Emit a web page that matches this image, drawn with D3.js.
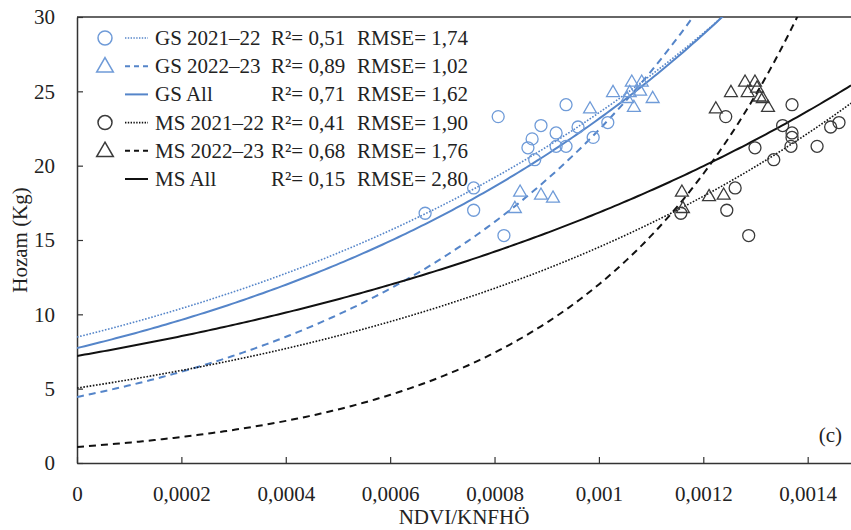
<!DOCTYPE html>
<html>
<head>
<meta charset="utf-8">
<script src="https://cdn.jsdelivr.net/npm/d3@7"></script>
<style>
  body { margin: 0; background: #fff; }
  svg text { font-family: "Liberation Serif", "Times New Roman", serif; fill: #222; }
</style>
</head>
<body>
<svg id="chart" width="851" height="530"></svg>
<script>
// GS 2021-22 points (circles)
const gsCircleX = [0.000667, 0.000760, 0.000760, 0.000807, 0.000818, 0.000864, 0.000872, 0.000877,
    0.000889, 0.000918, 0.000918, 0.000937, 0.000937, 0.000960, 0.000989, 0.001017];
const gsCircleY = [16.8, 18.5, 17.0, 23.3, 15.3, 21.2, 21.8, 20.4, 22.7, 22.2, 21.3, 21.3, 24.1, 22.6, 21.9, 22.9];

// GS 2022-23 points (triangles)
const gsTriX = [0.000839, 0.000849, 0.000889, 0.000912, 0.000983, 0.001027, 0.001054, 0.001059,
    0.001063, 0.001067, 0.001079, 0.001082, 0.001103];
const gsTriY = [17.1, 18.2, 18.0, 17.8, 23.8, 24.9, 24.5, 24.9, 25.6, 23.9, 25.0, 25.6, 24.5];

// MS 2021-22 points (circles)
const msCircleX = [0.001157, 0.001261, 0.001245, 0.001287, 0.001243, 0.001370, 0.001352, 0.001370,
    0.001370, 0.001368, 0.001299, 0.001335, 0.001418, 0.001444, 0.001460];
const msCircleY = [16.8, 18.5, 17.0, 15.3, 23.3, 24.1, 22.7, 22.2, 21.9, 21.3, 21.2, 20.4, 21.3, 22.6, 22.9];

// MS 2022-23 points (triangles)
const msTriX = [0.001159, 0.001161, 0.001211, 0.001239, 0.001224, 0.001253, 0.001280, 0.001285,
    0.001299, 0.001303, 0.001308, 0.001314, 0.001324];
const msTriY = [18.2, 17.1, 17.9, 18.0, 23.8, 24.9, 25.6, 24.9, 25.6, 25.2, 24.6, 24.5, 23.9];

// exponential trendlines y = a * exp(b * x)
const fitNames = ['GS 2021–22', 'GS 2022–23', 'GS All', 'MS 2021–22', 'MS 2022–23', 'MS All'];
const fitA = [8.47, 4.44, 7.73, 5.04, 1.08, 7.2];
const fitB = [1023, 1619, 1097, 1058, 2409, 850];
const fitR2 = ['0,51', '0,89', '0,71', '0,41', '0,68', '0,15'];
const fitRMSE = ['1,74', '1,02', '1,62', '1,90', '1,76', '2,80'];

const xTicks = [0, 0.0002, 0.0004, 0.0006, 0.0008, 0.001, 0.0012, 0.0014];
const yTicks = [0, 5, 10, 15, 20, 25, 30];

const blueLine = '#5585c9';
const blueMark = '#6f9bd8';
const blackLine = '#111';
const blackMark = '#3a3a3a';

const lineColor = [blueLine, blueLine, blueLine, blackLine, blackLine, blackLine];
const lineDash = ['1.6,1.6', '7,5', null, '1.6,1.6', '7,5', null];
const lineWidth = [1.6, 2, 2, 1.6, 2, 2];
const legendMarker = ['circle', 'triangle', null, 'circle', 'triangle', null];

const svg = d3.select('#chart');
const m = { left: 77, right: 851, top: 17, bottom: 463 };

const x = d3.scaleLinear().domain([0, 0.001483]).range([m.left, m.right]);
const y = d3.scaleLinear().domain([0, 30]).range([m.bottom, m.top]);

svg.append('clipPath').attr('id', 'plot')
    .append('rect').attr('x', m.left).attr('y', m.top)
    .attr('width', m.right - m.left).attr('height', m.bottom - m.top);

// axes
const fmt = d => d === 0 ? '0' : String(+d.toFixed(4)).replace('.', ',');

const xAxis = svg.append('g').attr('transform', `translate(0,${m.bottom})`)
    .call(d3.axisBottom(x).tickValues(xTicks).tickSizeInner(-6).tickSizeOuter(0).tickPadding(23).tickFormat(fmt));
const yAxis = svg.append('g').attr('transform', `translate(${m.left},0)`)
    .call(d3.axisLeft(y).tickValues(yTicks).tickSizeInner(-6).tickSizeOuter(0).tickPadding(22));

[xAxis, yAxis].forEach(a => {
    a.select('.domain').attr('stroke', '#333').attr('stroke-width', 1.5);
    a.selectAll('.tick line').attr('stroke', '#333').attr('stroke-width', 1.2);
    a.selectAll('.tick text').attr('font-size', 21).attr('fill', '#222')
        .attr('font-family', '"Liberation Serif", serif');
});

// top frame line
svg.append('line').attr('x1', m.left).attr('x2', m.right).attr('y1', m.top).attr('y2', m.top)
    .attr('stroke', '#333').attr('stroke-width', 1.5);

// trendlines
const xs = d3.range(0, 201).map(i => x.domain()[1] * i / 200);
const line = d3.line().x(d => x(d[0])).y(d => y(d[1]));
const curves = svg.append('g').attr('clip-path', 'url(#plot)');
fitNames.forEach((n, i) => {
    curves.append('path')
        .attr('d', line(xs.map(v => [v, fitA[i] * Math.exp(fitB[i] * v)])))
        .attr('fill', 'none')
        .attr('stroke', lineColor[i])
        .attr('stroke-width', lineWidth[i])
        .attr('stroke-dasharray', lineDash[i]);
});

// markers
const tri = d3.symbol().type(d3.symbolTriangle).size(72);
const triBig = d3.symbol().type(d3.symbolTriangle).size(120);

function drawCircles(xv, yv, color) {
    svg.append('g').selectAll('circle')
        .data(xv.map((v, i) => [v, yv[i]]))
        .join('circle')
        .attr('cx', d => x(d[0]))
        .attr('cy', d => y(d[1]))
        .attr('r', 6)
        .attr('fill', 'none')
        .attr('stroke', color)
        .attr('stroke-width', 1.3);
}
function drawTriangles(xv, yv, color) {
    svg.append('g').selectAll('path')
        .data(xv.map((v, i) => [v, yv[i]]))
        .join('path')
        .attr('d', tri)
        .attr('transform', d => `translate(${x(d[0])},${y(d[1])})`)
        .attr('fill', 'none')
        .attr('stroke', color)
        .attr('stroke-width', 1.3);
}
drawCircles(gsCircleX, gsCircleY, blueMark);
drawTriangles(gsTriX, gsTriY, blueMark);
drawCircles(msCircleX, msCircleY, blackMark);
drawTriangles(msTriX, msTriY, blackMark);

// legend
const leg = svg.append('g');
fitNames.forEach((n, i) => {
    const base = 45 + i * 28.2;
    const cy = base - 7;
    const isBlue = i < 3;
    if (legendMarker[i] === 'circle') {
        leg.append('circle').attr('cx', 105).attr('cy', cy).attr('r', 7)
            .attr('fill', 'none').attr('stroke', isBlue ? blueMark : blackMark).attr('stroke-width', 1.5);
    } else if (legendMarker[i] === 'triangle') {
        leg.append('path').attr('d', triBig).attr('transform', `translate(105,${cy + 1})`)
            .attr('fill', 'none').attr('stroke', isBlue ? blueMark : blackMark).attr('stroke-width', 1.5);
    }
    leg.append('line').attr('x1', 125).attr('x2', 148).attr('y1', cy).attr('y2', cy)
        .attr('stroke', lineColor[i]).attr('stroke-width', lineWidth[i])
        .attr('stroke-dasharray', lineDash[i] ? (lineDash[i] === '7,5' ? '5,4' : '1.4,1.4') : null);
    leg.append('text').attr('x', 155).attr('y', base).attr('font-size', 21).text(n);
    leg.append('text').attr('x', 271).attr('y', base).attr('font-size', 21).text(`R²= ${fitR2[i]}`);
    leg.append('text').attr('x', 357).attr('y', base).attr('font-size', 21).text(`RMSE= ${fitRMSE[i]}`);
});

// panel label
svg.append('text').attr('x', 842).attr('y', 442).attr('text-anchor', 'end')
    .attr('font-size', 21).text('(c)');

// axis titles
svg.append('text').attr('x', 464).attr('y', 524).attr('text-anchor', 'middle')
    .attr('font-size', 21).text('NDVI/KNFHÖ');
svg.append('text').attr('transform', 'translate(27,240) rotate(-90)')
    .attr('text-anchor', 'middle').attr('font-size', 21).text('Hozam (Kg)');
</script>
</body>
</html>
